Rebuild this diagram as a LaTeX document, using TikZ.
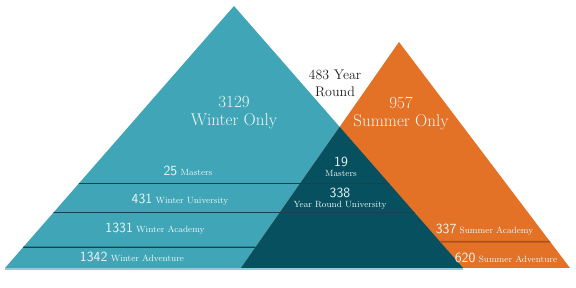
\documentclass[tikz,border=0pt]{standalone}
\usepackage{fontspec}
\definecolor{tealA}{HTML}{40A6B7}
\definecolor{tealD}{HTML}{07505F}
\definecolor{orangeA}{HTML}{E37227}
\definecolor{tealLine}{HTML}{17434D}
\definecolor{orangeLine}{HTML}{B0501A}
\definecolor{baseLight}{HTML}{8CCDD7}
\definecolor{txtW}{HTML}{EEF7F8}
\definecolor{txtK}{HTML}{231F20}
\newcommand{\numf}{\fontsize{14}{14}\sffamily}
\newcommand{\wordf}{\fontsize{9}{10}\rmfamily}
\begin{document}
\begin{tikzpicture}[x=1pt,y=-1pt,
  lbl/.style={inner sep=0pt, text=txtW},
  bigl/.style={inner sep=0pt, text=txtW, align=center, font=\fontsize{17}{18}\selectfont},
  tline/.style={draw=tealLine, line width=1.2pt},
  oline/.style={draw=orangeLine, line width=1.6pt}]
\useasboundingbox (0,0) rectangle (576,288);
\coordinate (TA) at (234,6);
\coordinate (TL) at (5,268);
\coordinate (TR) at (463,268);
\coordinate (OA) at (399,42);
\coordinate (OL) at (241,268);
\coordinate (OR) at (570,268);
\coordinate (h1l) at (0,183.3); \coordinate (h1r) at (576,183.3);
\coordinate (h2l) at (0,212.3); \coordinate (h2r) at (576,212.3);
\coordinate (h3l) at (0,247.3); \coordinate (h3r) at (576,247.3);
\coordinate (h4l) at (0,241.7); \coordinate (h4r) at (576,241.7);
% triangles
\fill[tealA] (TA)--(TL)--(TR)--cycle;
\fill[orangeA] (OA)--(OL)--(OR)--cycle;
\begin{scope}
  \clip (TA)--(TL)--(TR)--cycle;
  \fill[tealD] (OA)--(OL)--(OR)--cycle;
  \draw[tline] (h1l)--(h1r);
  \draw[tline] (h2l)--(h2r);
\end{scope}
\draw[tline] (intersection of TA--TL and h3l--h3r) -- (intersection of OA--OL and h3l--h3r);
\draw[oline] (intersection of TA--TR and h4l--h4r) -- (intersection of OA--OR and h4l--h4r);
\draw[baseLight, line width=1.6pt] (5,269.2)--(463,269.2);
% big labels
\node[bigl] (wo) at (234,113) {3129\\Winter Only};
\node[bigl] (so) at (401,113) {957\\Summer Only};
\node[inner sep=0pt, text=txtK, align=center, font=\fontsize{14}{17}\selectfont] (yr) at (335,83.5) {483 Year\\Round};
% band labels
\node[lbl, anchor=base] (b1) at (188,175.5) {{\numf 25}\ {\wordf Masters}};
\node[lbl, anchor=base] (b2) at (180,203.5) {{\numf 431}\ {\wordf Winter University}};
\node[lbl, anchor=base] (b3) at (155,232.3) {{\numf 1331}\ {\wordf Winter Academy}};
\node[lbl, anchor=base] (b4) at (132,261.3) {{\numf 1342}\ {\wordf Winter Adventure}};
\node[lbl, anchor=base] (b5) at (484.5,233.3) {{\numf 337}\ {\wordf Summer Academy}};
\node[lbl, anchor=base] (b6) at (506,262.3) {{\numf 620}\ {\wordf Summer Adventure}};
\node[lbl, anchor=base] (m1) at (341,166.5) {\numf 19};
\node[lbl, anchor=base] (m2) at (341,177) {\wordf Masters};
\node[lbl, anchor=base] (y1) at (340,197.5) {\numf 338};
\node[lbl, anchor=base] (y2) at (340,208) {\wordf Year Round University};
\end{tikzpicture}
\end{document}
